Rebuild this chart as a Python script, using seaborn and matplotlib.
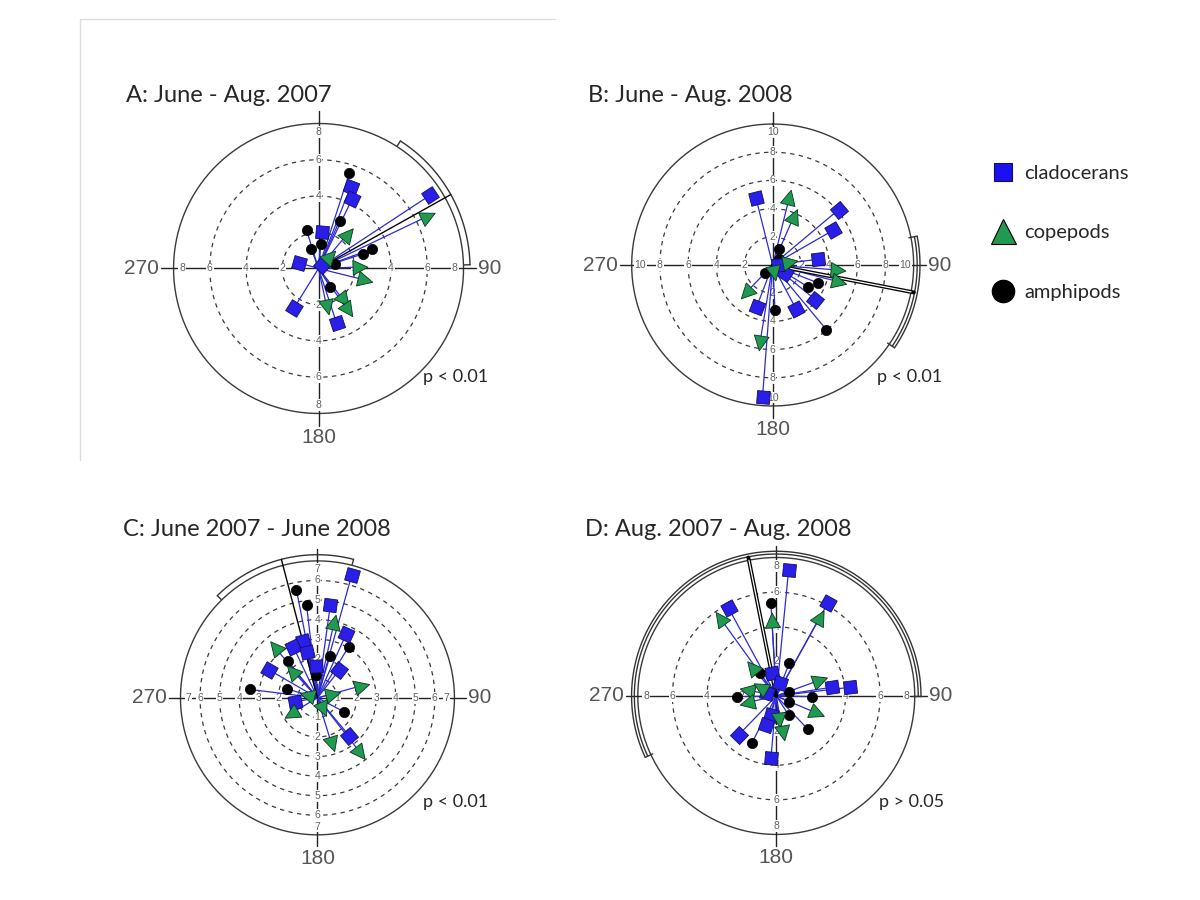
import numpy as np
import matplotlib
matplotlib.use("Agg")
import matplotlib.pyplot as plt
import seaborn as sns
import pandas as pd
from matplotlib.markers import MarkerStyle
from matplotlib.transforms import Affine2D
from matplotlib.lines import Line2D

sns.set_style("white")
plt.rcParams['font.family'] = ['Lato', 'DejaVu Sans']

# ---------------- data (compass angle in degrees, vector length) ----------------
a_clad_ang = [21.4, 25.8, 56.7, 5, 286, 211.8, 161.7, 42]
a_clad_r = [4.85, 4.27, 7.34, 2.04, 1.15, 2.58, 3.16, 0.25]
a_cope_ang = [64.4, 39.9, 44, 88, 104, 141.7, 168, 145.2]
a_cope_r = [6.67, 2.50, 0.92, 2.27, 2.65, 2.23, 2.17, 2.81]
a_amph_ang = [17.9, 23.7, 342.6, 339.8, 5, 71.8, 69.9, 74, 147.7]
a_amph_r = [5.52, 2.88, 2.21, 1.15, 1.33, 2.58, 3.15, 0.94, 1.19]

b_clad_ang = [346, 50, 60.1, 82.8, 124, 201, 152, 129, 184.4, 85]
b_clad_r = [4.91, 6.12, 4.92, 3.22, 1.06, 3.19, 3.56, 3.89, 9.38, 0.4]
b_cope_ang = [13.8, 23.5, 79, 94.4, 104.2, 224, 169, 189.3]
b_cope_r = [4.98, 3.82, 1.26, 4.63, 4.84, 2.74, 0.61, 5.62]
b_amph_ang = [23, 48, 226, 121.8, 111.6, 177, 140.3]
b_amph_r = [1.22, 0.64, 0.79, 2.94, 3.43, 3.22, 5.97]

c_clad_ang = [15.6, 7.9, 24.2, 345.2, 334.7, 346.8, 357.3, 38.1, 300, 260.2, 140]
c_clad_r = [6.5, 4.8, 3.57, 2.98, 2.9, 2.43, 1.63, 1.81, 2.85, 1.17, 2.54]
c_cope_ang = [12.4, 319.9, 317.5, 74.6, 76, 284.5, 239.6, 155.9, 163, 142]
c_cope_r = [3.95, 3.38, 1.89, 2.35, 0.8, 0.57, 1.58, 0.65, 2.48, 3.55]
c_amph_ang = [349, 353.3, 31.4, 16.6, 321.2, 356.2, 277.1, 286.4, 117.6]
c_amph_r = [5.63, 4.79, 3.07, 2.24, 2.44, 1.17, 3.49, 1.6, 1.53]

d_clad_ang = [5.6, 29, 331.5, 349, 17.5, 81, 83.3, 286, 195.7, 199, 224, 184.9]
d_clad_r = [7.3, 6.11, 5.76, 1.33, 0.77, 3.25, 4.3, 0.56, 1.14, 1.77, 3.13, 3.61]
d_cope_ang = [324.2, 29, 356.7, 320.3, 70, 281.6, 300, 257.2, 113, 174.4, 170]
d_cope_r = [5.52, 5.23, 4.39, 2.2, 2.7, 1.73, 1.07, 1.74, 2.55, 1.39, 2.19]
d_amph_ang = [356.7, 21.7, 324.8, 269, 70.6, 114.7, 91, 147, 136.5, 207.5]
d_amph_r = [5.39, 2.03, 1.6, 2.27, 0.75, 0.78, 2.06, 1.31, 2.65, 3.04]

titles = ["A: June - Aug. 2007", "B: June - Aug. 2008",
          "C: June 2007 - June 2008", "D: Aug. 2007 - Aug. 2008"]
p_texts = ["p < 0.01", "p < 0.01", "p < 0.01", "p > 0.05"]
r_max = [8, 10, 7, 8]
ring_steps = [[2, 4, 6], [2, 4, 6, 8], [1, 2, 3, 4, 5, 6], [4, 6]]
tick_vals = [[2, 4, 6, 8], [2, 4, 6, 8, 10], [1, 2, 3, 4, 5, 6, 7], [2, 4, 6, 8]]
mean_dir = [60.8, 101, 345.4, 348.6]
ci_lo = [32.7, 78.7, 315.6, 244.9]
ci_hi = [88.6, 124.2, 374.6, 450.0]
double_ci = [False, True, False, True]

legend_labels = ["cladocerans", "copepods", "amphipods"]

CLAD = "#2a1fe8"
COPE = "#1f9a50"
AMPH = "#000000"
LINE = "#2b2bd6"

panels = [
    (a_clad_ang, a_clad_r, a_cope_ang, a_cope_r, a_amph_ang, a_amph_r),
    (b_clad_ang, b_clad_r, b_cope_ang, b_cope_r, b_amph_ang, b_amph_r),
    (c_clad_ang, c_clad_r, c_cope_ang, c_cope_r, c_amph_ang, c_amph_r),
    (d_clad_ang, d_clad_r, d_cope_ang, d_cope_r, d_amph_ang, d_amph_r),
]

# axes boxes (left, bottom, width, height) in figure fraction
boxes = [
    [0.1446, 0.5406, 0.2417, 0.3222],
    [0.5264, 0.5489, 0.2350, 0.3133],
    [0.1504, 0.0724, 0.2283, 0.3044],
    [0.5315, 0.0728, 0.2308, 0.3078],
]
title_pos = [(126, 96), (588, 96), (123, 530), (585, 530)]
p_pos = [(423, 377), (877, 377), (423, 802), (879, 802)]

fig = plt.figure(figsize=(12, 9), dpi=100)

# light frame around panel A
fig.add_artist(Line2D([80 / 1200, 555 / 1200], [1 - 19 / 900, 1 - 19 / 900],
                      transform=fig.transFigure, color="#dcdcdc", lw=1))
fig.add_artist(Line2D([80 / 1200, 80 / 1200], [1 - 19 / 900, 1 - 460 / 900],
                      transform=fig.transFigure, color="#dcdcdc", lw=1))

full = np.linspace(0, 2 * np.pi, 400)

for i in range(4):
    ax = fig.add_axes(boxes[i], projection="polar")
    R = r_max[i]
    ax.set_theta_zero_location("N")
    ax.set_theta_direction(-1)
    ax.set_ylim(0, R)
    ax.grid(False)
    ax.set_xticks([])
    ax.set_yticks([])
    ax.spines["polar"].set_visible(False)
    ax.patch.set_alpha(0)

    # outer circle and dashed rings
    ax.plot(full, np.full_like(full, R), color="#3a3a3a", lw=1.0, clip_on=False, zorder=1)
    for d in ring_steps[i]:
        ax.plot(full, np.full_like(full, d), color="#3a3a3a", lw=0.9,
                ls=(0, (3.5, 3.5)), zorder=1)
    # cross axes
    for a in [0, 90, 180, 270]:
        ax.plot([np.deg2rad(a)] * 2, [0, 1.085 * R], color="#222222", lw=1.0,
                clip_on=False, zorder=1)
        for t in tick_vals[i]:
            rr = t if t < R else 0.94 * R
            ax.text(np.deg2rad(a), rr, str(t), ha="center", va="center", fontsize=7.5,
                    color="#606060", family="Liberation Sans", zorder=1.5,
                    bbox=dict(boxstyle="square,pad=0.08", fc="white", ec="none"))
    ax.text(np.deg2rad(90), 1.1 * R, "90", ha="left", va="center", fontsize=15,
            color="#555555", family="Liberation Sans", clip_on=False)
    ax.text(np.deg2rad(270), 1.1 * R, "270", ha="right", va="center", fontsize=15,
            color="#555555", family="Liberation Sans", clip_on=False)
    ax.text(np.deg2rad(180), 1.1 * R, "180", ha="center", va="top", fontsize=15,
            color="#555555", family="Liberation Sans", clip_on=False)

    ca, cr, pa, pr, ma, mr = panels[i]
    # vectors
    all_ang = np.deg2rad(np.array(list(ca) + list(pa) + list(ma)))
    all_r = np.array(list(cr) + list(pr) + list(mr))
    ax.vlines(all_ang, 0, all_r, color=LINE, lw=0.9, zorder=2)

    # mean direction and confidence arc(s)
    rarc = 1.045 * R
    md = np.deg2rad(mean_dir[i])
    if double_ci[i]:
        ax.plot([md, md], [0, 1.02 * R], color="black", lw=2.8, clip_on=False, zorder=2.5)
        ax.plot([md, md], [0.05 * R, 1.0 * R], color="white", lw=0.9, clip_on=False, zorder=2.6)
        arc_rs = [1.025 * R, 1.045 * R]
    else:
        ax.plot([md, md], [0, rarc], color="black", lw=1.0, clip_on=False, zorder=2.5)
        arc_rs = [rarc]
    th = np.deg2rad(np.linspace(ci_lo[i], ci_hi[i], 200))
    for rr in arc_rs:
        ax.plot(th, np.full_like(th, rr), color="#333333", lw=1.0, clip_on=False, zorder=2)
    for e in [ci_lo[i], ci_hi[i]]:
        ax.plot([np.deg2rad(e)] * 2, [arc_rs[-1], arc_rs[0] - 0.04 * R], color="#333333",
                lw=1.0, clip_on=False, zorder=2)

    # amphipods (circles) via seaborn
    df = pd.DataFrame({"theta": np.deg2rad(ma), "r": mr})
    sns.scatterplot(data=df, x="theta", y="r", ax=ax, marker="o", s=55, color=AMPH,
                    edgecolor="black", linewidth=0.5, zorder=3, legend=False)
    # cladocerans (squares, rotated with vector)
    for a, r in zip(ca, cr):
        m = MarkerStyle("s", transform=Affine2D().rotate_deg(-a))
        ax.scatter([np.deg2rad(a)], [r], marker=m, s=85, color=CLAD,
                   edgecolor="#101060", linewidth=0.6, zorder=3)
    # copepods (triangles pointing outward)
    for a, r in zip(pa, pr):
        m = MarkerStyle("^", transform=Affine2D().rotate_deg(-a))
        ax.scatter([np.deg2rad(a)], [r], marker=m, s=115, color=COPE,
                   edgecolor="#0b3318", linewidth=0.6, zorder=3)
    ax.set_xlabel("")
    ax.set_ylabel("")

    tx, ty = title_pos[i]
    fig.text(tx / 1200, 1 - ty / 900, titles[i], ha="left", va="center", fontsize=17)
    px, py = p_pos[i]
    fig.text(px / 1200, 1 - py / 900, p_texts[i], ha="left", va="center", fontsize=13)

handles = [
    Line2D([], [], ls="none", marker="s", ms=13, mfc="#1a10f0", mec="#101060", mew=0.8),
    Line2D([], [], ls="none", marker="^", ms=18, mfc=COPE, mec="black", mew=0.8),
    Line2D([], [], ls="none", marker="o", ms=16, mfc="black", mec="black"),
]
fig.legend(handles, legend_labels, loc="upper left", bbox_to_anchor=(991 / 1200, 1 - 165 / 900),
           frameon=False, fontsize=14.5, labelspacing=2.1, handlelength=1.2,
           handletextpad=0.45, borderaxespad=0, borderpad=0)

fig.savefig("out.png", dpi=100, facecolor="white")
